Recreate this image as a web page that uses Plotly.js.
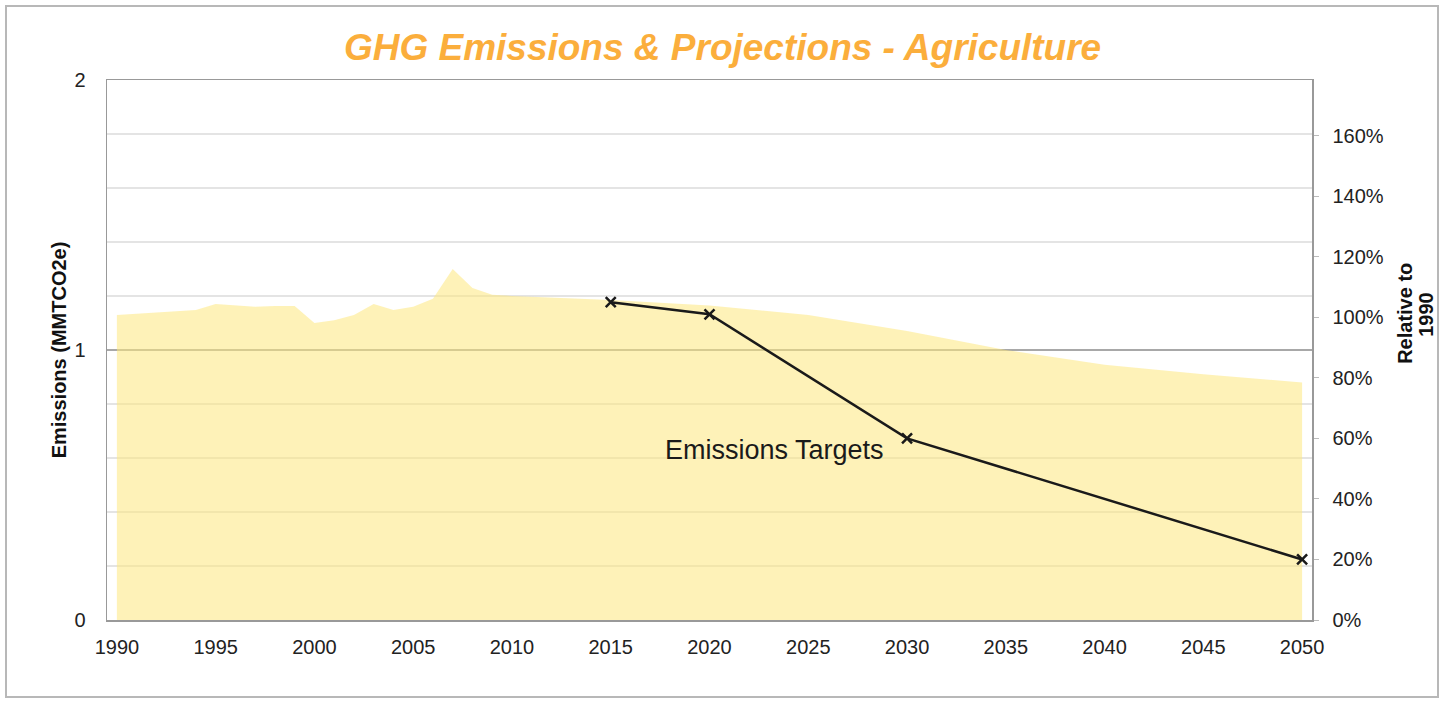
<!DOCTYPE html>
<html><head><meta charset="utf-8">
<script src="https://cdn.plot.ly/plotly-3.0.1.min.js"></script>
<style>
html,body{margin:0;padding:0;background:#fff;}
#wrap{position:relative;width:1448px;height:704px;}
#chart{width:1448px;height:704px;}
#frame{position:absolute;left:5px;top:5px;width:1434px;height:693px;border:2px solid #b8b8b8;box-sizing:border-box;pointer-events:none;}
</style>
</head><body>
<div id="wrap"><div id="chart"></div><div id="frame"></div></div>
<script>
// Historical + projected emissions (MMTCO2e)
const years = [1990,1991,1992,1993,1994,1995,1996,1997,1998,1999,2000,2001,2002,2003,2004,2005,2006,2007,2008,2009,2010,2015,2020,2025,2030,2035,2040,2045,2050];
const emissions = [1.13,1.135,1.14,1.145,1.148,1.17,1.165,1.16,1.163,1.163,1.10,1.11,1.13,1.17,1.148,1.16,1.19,1.30,1.23,1.205,1.20,1.185,1.165,1.13,1.07,1.0,0.945,0.91,0.88];
// Emissions targets relative to 1990 (%)
const targetYears = [2015,2020,2030,2050];
const targetPct = [105,101,60,20];
const annotationText = "Emissions Targets";
const rightTitleLines = ["Relative to", "1990"];

const font = "Liberation Sans, Arial, sans-serif";

const traces = [
  {x: years, y: emissions, type:'scatter', mode:'lines', fill:'tozeroy',
   line:{width:0, color:'rgba(0,0,0,0)'}, fillcolor:'rgba(254,232,125,0.55)', yaxis:'y', hoverinfo:'skip'},
  {x: targetYears, y: targetPct, type:'scatter', mode:'lines+markers', yaxis:'y2',
   line:{color:'#1a1a1a', width:2.5},
   marker:{symbol:'x-thin', size:10, line:{color:'#1a1a1a', width:2.5}, color:'#1a1a1a'}}
];

const layout = {
  width:1448, height:704,
  margin:{l:107, r:136, t:80, b:84},
  paper_bgcolor:'rgba(0,0,0,0)', plot_bgcolor:'#fff',
  showlegend:false,
  font:{family:font, color:'#222', size:20},
  title:{text:'GHG Emissions & Projections - Agriculture', x:0.499, xanchor:'center', y:0.933, yanchor:'middle',
         font:{family:font, size:37, color:'#FBAE3C', weight:'bold', style:'italic'}},
  xaxis:{range:[1989.5,2050.5], dtick:5, tick0:1990, showgrid:false, zeroline:false,
         showline:true, linecolor:'#999', linewidth:1.5, mirror:true, ticks:'', ticklabelstandoff:8,
         tickfont:{size:20, color:'#222'}},
  yaxis:{range:[0,2], tickvals:[0,1,2], showgrid:true, gridcolor:'#a8a8a8', gridwidth:1.2, zeroline:false,
         minor:{dtick:0.2, tick0:0, showgrid:true, gridcolor:'#e4e4e4', gridwidth:1.2},
         showline:true, linecolor:'#999', linewidth:1.5, ticks:'', ticklabelstandoff:16,
         tickfont:{size:20, color:'#222'},
         title:{text:'Emissions (MMTCO2e)', standoff:2, font:{size:20, weight:'bold', color:'#111'}}},
  yaxis2:{overlaying:'y', side:'right', range:[0,178.4], dtick:20, ticksuffix:'%', showgrid:false, zeroline:false,
          showline:true, linecolor:'#999', linewidth:1.5, ticks:'outside', ticklen:5, tickcolor:'#bbb',
          ticklabelstandoff:10, tickfont:{size:20, color:'#222'}},
  annotations:[
    {x:2023.3, y:0.63, xref:'x', yref:'y', text:annotationText, showarrow:false,
     font:{family:font, size:27, color:'#1a1a1a'}},
    {x:1.0772, y:0.567, xref:'paper', yref:'paper', text:rightTitleLines[0], textangle:-90, showarrow:false,
     xanchor:'center', yanchor:'middle', font:{family:font, size:20, weight:'bold', color:'#111'}},
    {x:1.0946, y:0.567, xref:'paper', yref:'paper', text:rightTitleLines[1], textangle:-90, showarrow:false,
     xanchor:'center', yanchor:'middle', font:{family:font, size:20, weight:'bold', color:'#111'}}
  ]
};

Plotly.newPlot('chart', traces, layout, {displayModeBar:false, staticPlot:true});
</script>
</body></html>
